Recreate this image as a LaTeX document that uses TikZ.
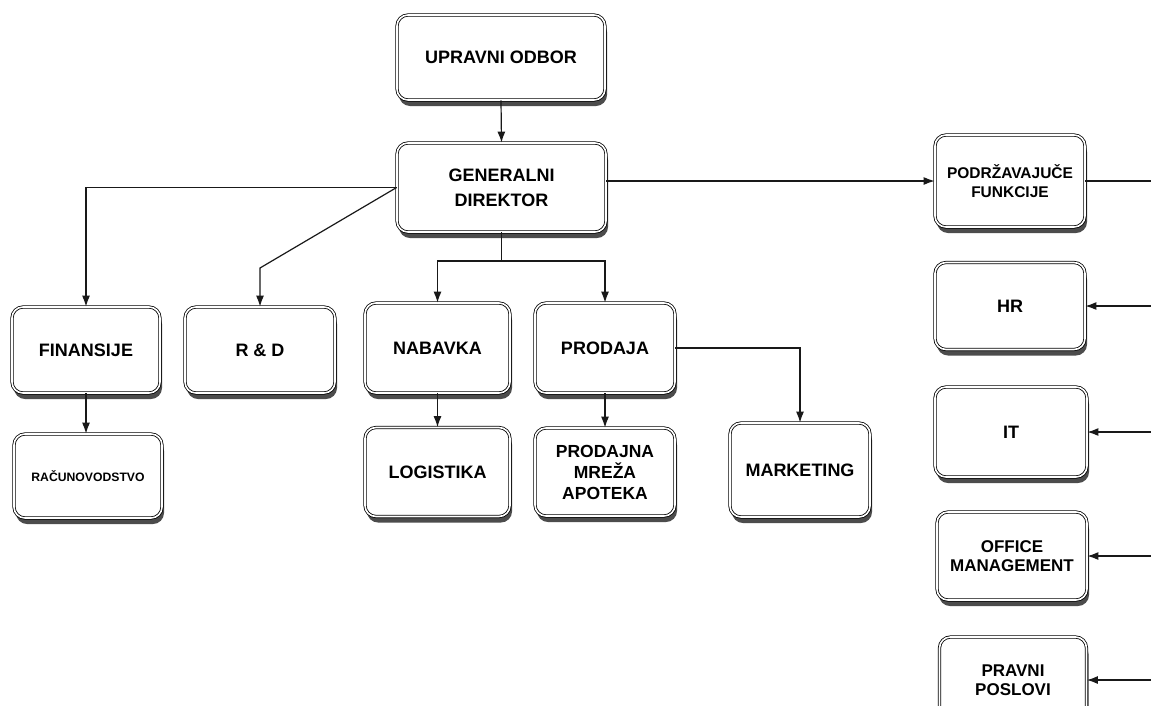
\documentclass[tikz,border=0pt]{standalone}
\usepackage{fontspec}
\setmainfont{Liberation Sans}
\usetikzlibrary{arrows.meta,shadows}
\begin{document}
\begin{tikzpicture}[x=1pt,y=-1pt,
  box/.style={draw=black, line width=0.8pt, double=white, double distance=1.6pt,
    rounded corners=11pt, fill=white, align=center, inner sep=2pt,
    font=\bfseries\fontsize{18}{23}\selectfont,
    drop shadow={shadow xshift=2pt, shadow yshift=-6pt, fill=black!70, opacity=1}},
  conn/.style={draw=black!90, line width=1.2pt},
  arr/.style={conn, -{Latex[length=11pt,width=8pt]}}]
\clip (0,0) rectangle (1151,705);
\fill[white] (0,0) rectangle (1151,705);
% nodes
\node[box, minimum width=208pt, minimum height=85pt] (uo) at (501,57.5) {UPRAVNI ODBOR};
\node[box, minimum width=209pt, minimum height=89pt, font=\bfseries\fontsize{18}{25}\selectfont] (gd) at (501.5,187.5) {GENERALNI\\DIREKTOR};
\node[box, minimum width=148pt, minimum height=86pt] (fin) at (86,350) {FINANSIJE};
\node[box, minimum width=150pt, minimum height=86pt] (rd) at (260,350) {R \& D};
\node[box, minimum width=148pt, minimum height=84pt, font=\bfseries\fontsize{12.2}{14}\selectfont] (rac) at (88,476) {RAČUNOVODSTVO};
\node[box, minimum width=145pt, minimum height=90pt] (nab) at (437.5,348) {NABAVKA};
\node[box, minimum width=140pt, minimum height=90pt] (pro) at (605,348) {PRODAJA};
\node[box, minimum width=145pt, minimum height=89pt] (log) at (437.5,472) {LOGISTIKA};
\node[box, minimum width=140pt, minimum height=88pt, font=\bfseries\fontsize{17.5}{21}\selectfont] (pma) at (605,472) {PRODAJNA\\MREŽA\\APOTEKA};
\node[box, minimum width=140pt, minimum height=94pt] (mar) at (800,470) {MARKETING};
\node[box, minimum width=150pt, minimum height=92pt, font=\bfseries\fontsize{15.5}{18.5}\selectfont] (pf) at (1010,181) {PODRŽAVAJUČE\\FUNKCIJE};
\node[box, minimum width=150pt, minimum height=87pt] (hr) at (1010,306) {HR};
\node[box, minimum width=152pt, minimum height=90pt] (it) at (1011,432) {IT};
\node[box, minimum width=150pt, minimum height=88pt, font=\bfseries\fontsize{17}{19}\selectfont] (om) at (1012,556) {OFFICE\\MANAGEMENT};
\node[box, minimum width=147pt, minimum height=86pt, text depth=0pt, font=\bfseries\fontsize{17}{19}\selectfont] (pp) at (1013,680) {PRAVNI\\POSLOVI};
% helper coordinates
\coordinate (rdk) at (260,268);
\coordinate (split) at (501.5,261);
\coordinate (r0) at (1151,181);
\coordinate (r1) at (1151,306);
\coordinate (r2) at (1151,432);
\coordinate (r3) at (1151,556);
\coordinate (r4) at (1151,680);
% connectors
\draw[arr] (uo.south) -- (gd.north);
\draw[arr] (gd.west) -| (fin.north);
\draw[arr] (gd.west) -- (rdk) -- (rd.north);
\draw[conn] (gd.south) -- (split);
\draw[arr] (split) -| (nab.north);
\draw[arr] (split) -| (pro.north);
\draw[arr] (fin.south) -- (fin.south |- rac.north);
\draw[arr] (nab.south) -- (log.north);
\draw[arr] (pro.south) -- (pma.north);
\draw[arr] (pro.east) -| (mar.north);
\draw[arr] (gd.east |- pf.west) -- (pf.west);
\draw[conn] (pf.east) -- (r0);
\draw[arr] (r1) -- (hr.east);
\draw[arr] (r2) -- (it.east);
\draw[arr] (r3) -- (om.east);
\draw[arr] (r4) -- (pp.east);
\end{tikzpicture}
\end{document}
